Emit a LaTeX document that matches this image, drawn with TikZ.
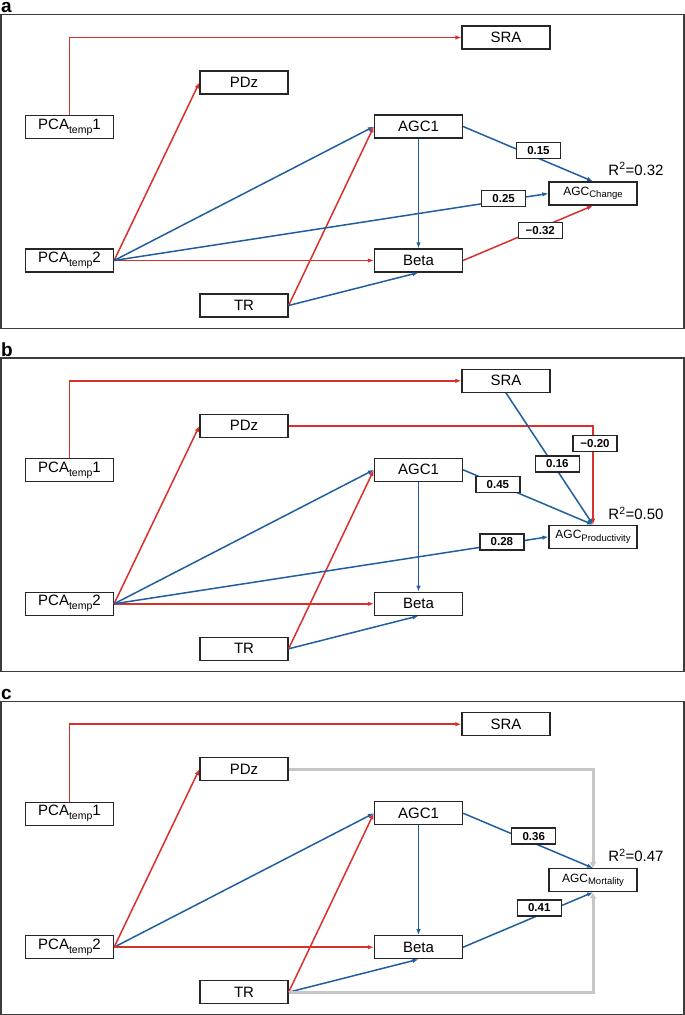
\documentclass[tikz,border=0pt]{standalone}
\usepackage{fontspec}
\setmainfont{Liberation Sans}
\usetikzlibrary{arrows.meta,calc}
\definecolor{pred}{RGB}{217,48,44}
\definecolor{pblue}{RGB}{32,94,160}
\definecolor{pgray}{RGB}{198,198,198}
\definecolor{frm}{RGB}{60,60,60}
\newcommand{\lowsub}[1]{\raisebox{-4pt}{\fontsize{10.5}{12}\selectfont #1}}
\newcommand{\agcsub}[1]{AGC\raisebox{-2.5pt}{\fontsize{9.5}{11}\selectfont #1}}
\tikzset{
  box/.style={draw=black!85, line width=1.2pt, fill=white, minimum width=88pt, minimum height=23pt, inner sep=0pt, font=\fontsize{15}{17}\selectfont},
  sbox/.style={box, font=\fontsize{12}{14}\selectfont},
  lbl/.style={draw=black!85, line width=1.2pt, fill=white, minimum width=44pt, minimum height=16pt, inner sep=0pt, font=\bfseries\fontsize{11.5}{13}\selectfont},
  rarr/.style={draw=pred, line width=1.5pt, -{Latex[length=6pt,width=4.5pt]}},
  barr/.style={draw=pblue, line width=1.5pt, -{Latex[length=6pt,width=4.5pt]}},
  garr/.style={draw=pgray, line width=3pt, -{Latex[length=6pt,width=7pt]}},
  frame/.style={draw=frm, line width=1.5pt},
  plbl/.style={font=\bfseries\fontsize{19}{21}\selectfont, anchor=base west, inner sep=0pt},
  rtwo/.style={font=\fontsize{15}{17}\selectfont, inner sep=0pt}
}
% common part of each panel: #1 prefix, #2 panel letter, #3 outcome subscript
\newcommand{\panelbase}[3]{%
  \draw[frame] (1,14.7) rectangle (684,328.3);
  \node[plbl] (#1letter) at (1,12.8) {#2};
  \node[box] (#1SRA) at (506,37.5) {SRA};
  \node[box] (#1PDz) at (244,82.5) {PDz};
  \node[box] (#1PCA1) at (69.5,127) {PCA\lowsub{temp}1};
  \node[box] (#1AGC1) at (418.5,126.5) {AGC1};
  \node[sbox] (#1OUT) at (593,193.5) {\agcsub{#3}};
  \node[box] (#1PCA2) at (69.5,260.5) {PCA\lowsub{temp}2};
  \node[box] (#1Beta) at (418.5,260.5) {Beta};
  \node[box] (#1TR) at (244,305.5) {TR};
  \draw[rarr] (#1PCA1.north) |- (#1SRA.west);
  \draw[rarr] (#1PCA2.east) -- (#1PDz.west);
  \draw[barr] (#1PCA2.east) -- (#1AGC1.west);
  \draw[rarr] (#1PCA2.east) -- (#1Beta.west);
  \draw[rarr] (#1TR.east) -- (#1AGC1.west);
  \draw[barr] (#1TR.east) -- (#1Beta.south);
  \draw[barr] (#1AGC1.south) -- (#1Beta.north);
}
\begin{document}
\begin{tikzpicture}[x=1pt,y=-1pt]
\fill[white] (0,0) rectangle (685,1015);
\useasboundingbox (0,0) rectangle (685,1015);

% ---------- panel a ----------
\begin{scope}
\panelbase{a}{a}{Change}
\draw[barr] (aAGC1.east) -- node[lbl, pos=0.58, yshift=7.5pt] (aL1) {0.15} (aOUT.north);
\draw[barr] (aPCA2.east) -- node[lbl, pos=0.897, yshift=2pt] (aL2) {0.25} (aOUT.west);
\draw[rarr] (aBeta.east) -- node[lbl, pos=0.594, yshift=-2.5pt] (aL3) {−0.32} (aOUT.south);
\node[rtwo] (aR2) at (636,169) {R\textsuperscript{2}=0.32};
\end{scope}

% ---------- panel b ----------
\begin{scope}[shift={(0,343.3)}]
\panelbase{b}{b}{Productivity}
\draw[rarr] (bPDz.east) -- (bPDz.east -| bOUT.north) -- node[lbl, pos=0.18, xshift=2pt] (bL4) {−0.20} (bOUT.north);
\draw[barr] (bSRA.south) -- node[lbl, pos=0.539, xshift=4.5pt] (bL1) {0.16} (bOUT.north);
\draw[barr] (bAGC1.east) -- node[lbl, pos=0.268] (bL2) {0.45} (bOUT.north);
\draw[barr] (bPCA2.east) -- node[lbl, pos=0.893, yshift=2pt] (bL3) {0.28} (bOUT.west);
\node[rtwo] (bR2) at (636,170) {R\textsuperscript{2}=0.50};
\end{scope}

% ---------- panel c ----------
\begin{scope}[shift={(0,686.7)}]
\panelbase{c}{c}{Mortality}
\draw[garr] (cPDz.east) -| (cOUT.north);
\draw[garr] (cTR.east) -| (cOUT.south);
\draw[barr] (cAGC1.east) -- node[lbl, pos=0.544, yshift=7pt] (cL1) {0.36} (cOUT.north);
\draw[barr] (cBeta.east) -- node[lbl, pos=0.586, yshift=7pt] (cL2) {0.41} (cOUT.south);
\node[rtwo] (cR2) at (636,168.5) {R\textsuperscript{2}=0.47};
\end{scope}
\end{tikzpicture}
\end{document}
